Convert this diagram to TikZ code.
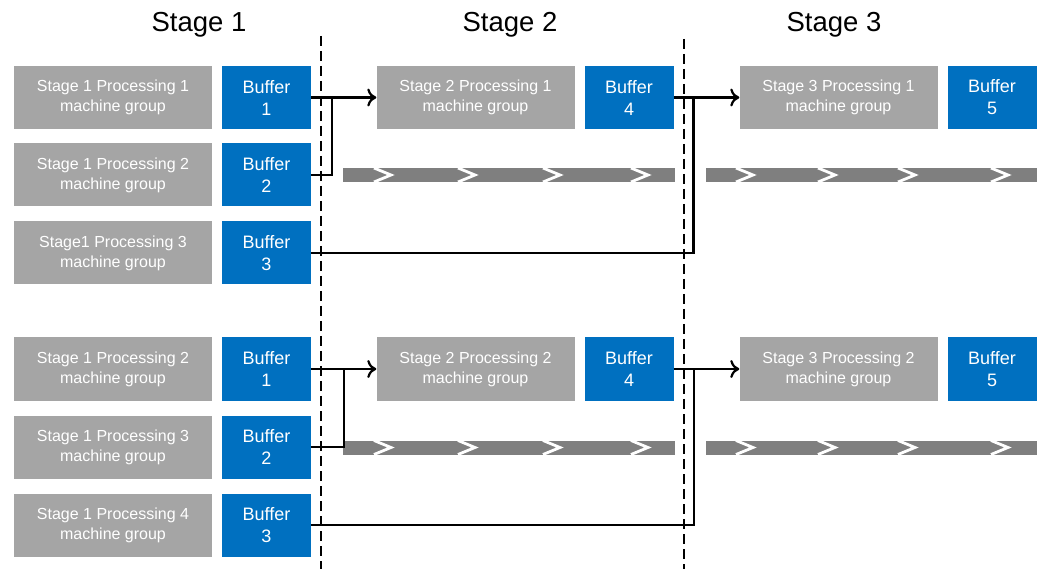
\documentclass[tikz,border=0pt]{standalone}
\usepackage{fontspec}
\setmainfont{Liberation Sans}
\usepackage{tikz}
\usetikzlibrary{arrows.meta}
\definecolor{boxgray}{HTML}{A5A5A5}
\definecolor{bufblue}{HTML}{0070C0}
\definecolor{bandgray}{HTML}{7F7F7F}
\tikzstyle{proc} = [fill=boxgray, text=white, minimum width=198pt, minimum height=63pt, align=center, inner sep=0pt, font=\fontsize{16}{20}\selectfont]
\tikzstyle{buf} = [fill=bufblue, text=white, minimum width=89pt, minimum height=63pt, align=center, inner sep=0pt, font=\fontsize{18}{22}\selectfont]
\tikzstyle{flow} = [line width=2.2pt, -{To[length=9pt,width=18pt,line width=2.2pt]}]
\tikzstyle{link} = [line width=2.2pt]
\tikzstyle{divider} = [line width=2.4pt, dash pattern=on 10pt off 5pt]
\tikzstyle{chevron} = [white, line width=2.8pt]

\begin{document}
\begin{tikzpicture}[x=1pt,y=-1pt]
			\useasboundingbox (0,0) rectangle (1042,569);
			% stage headings
			\node[font=\fontsize{27.5}{32}\selectfont] (h1) at (199,25) {Stage 1};
			\node[font=\fontsize{27.5}{32}\selectfont] (h2) at (510,25) {Stage 2};
			\node[font=\fontsize{27.5}{32}\selectfont] (h3) at (834,25) {Stage 3};
			% stage dividers
			\draw[divider] (321,36)--(321,569);
			\draw[divider] (684,39)--(684,569);
			% first line: stage 1
			\node[proc] (a11) at (113,97.5) {Stage 1 Processing 1\\machine group};
			\node[proc] (a12) at (113,175) {Stage 1 Processing 2\\machine group};
			\node[proc] (a13) at (113,253) {Stage1 Processing 3\\machine group};
			\node[buf] (ab1) at (266.5,97.5) {Buffer\\1};
			\node[buf] (ab2) at (266.5,175) {Buffer\\2};
			\node[buf] (ab3) at (266.5,253) {Buffer\\3};
			% first line: stage 2 and 3
			\node[proc] (a21) at (475.5,97.5) {Stage 2 Processing 1\\machine group};
			\node[buf] (ab4) at (629,97.5) {Buffer\\4};
			\node[proc] (a31) at (838.5,97.5) {Stage 3 Processing 1\\machine group};
			\node[buf] (ab5) at (992,97.5) {Buffer\\5};
			% second line: stage 1
			\node[proc] (b11) at (113,369) {Stage 1 Processing 2\\machine group};
			\node[proc] (b12) at (113,447) {Stage 1 Processing 3\\machine group};
			\node[proc] (b13) at (113,525) {Stage 1 Processing 4\\machine group};
			\node[buf] (bb1) at (266.5,369) {Buffer\\1};
			\node[buf] (bb2) at (266.5,447) {Buffer\\2};
			\node[buf] (bb3) at (266.5,525) {Buffer\\3};
			% second line: stage 2 and 3
			\node[proc] (b21) at (475.5,369) {Stage 2 Processing 2\\machine group};
			\node[buf] (bb4) at (629,369) {Buffer\\4};
			\node[proc] (b31) at (838.5,369) {Stage 3 Processing 2\\machine group};
			\node[buf] (bb5) at (992,369) {Buffer\\5};
			% conveyor bands
			\foreach \xa/\xb/\yy in {343/675/175, 706/1037/175, 343/675/447.5, 706/1037/447.5}
				\fill[bandgray] (\xa,\yy-7) rectangle (\xb,\yy+7);
			\foreach \cx in {383,467,552,640}{
				\draw[chevron] (\cx-9,168)--(\cx+8,175)--(\cx-9,182);
				\draw[chevron] (\cx-9,440.5)--(\cx+8,447.5)--(\cx-9,454.5);
			}
			\foreach \cx in {745,827,907,1000}{
				\draw[chevron] (\cx-9,168)--(\cx+8,175)--(\cx-9,182);
				\draw[chevron] (\cx-9,440.5)--(\cx+8,447.5)--(\cx-9,454.5);
			}
			% junctions
			\coordinate (ja1) at (332,97.5);
			\coordinate (ja2) at (693.5,97.5);
			\coordinate (jb1) at (344,369);
			\coordinate (jb2) at (694,369);
			% connectors
			\draw[flow] (ab1.east)--(a21.west);
			\draw[link] (ab2.east)-|(ja1);
			\draw[flow] (ab4.east)--(a31.west);
			\draw[link] (ab3.east)-|(ja2);
			\draw[flow] (bb1.east)--(b21.west);
			\draw[link] (bb2.east)-|(jb1);
			\draw[flow] (bb4.east)--(b31.west);
			\draw[link] (bb3.east)-|(jb2);
		\end{tikzpicture}
\end{document}
